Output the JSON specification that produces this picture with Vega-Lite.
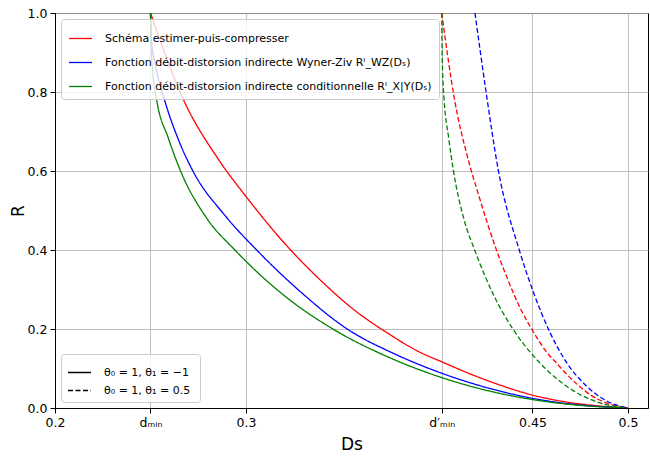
{
  "$schema": "https://vega.github.io/schema/vega-lite/v6.json",
  "width": 593,
  "height": 395,
  "autosize": {"type": "none"},
  "padding": {"left": 55, "top": 13, "right": 2, "bottom": 48},
  "config": {
    "font": "DejaVu Sans",
    "view": {"stroke": "black", "strokeWidth": 1},
    "axis": {
      "gridColor": "#b0b0b0", "gridWidth": 0.8, "domainColor": "black", "domainWidth": 1,
      "tickColor": "black", "tickSize": 5, "labelColor": "black", "labelFontSize": 12.5,
      "titleFontSize": 17, "titleFontWeight": "normal", "titleColor": "black", "labelPadding": 3,
      "labelFlush": false
    }
  },
  "data": {"values": [
    {"s": "EPC", "t": "a", "Ds": 0.25, "R": 1.0},
    {"s": "EPC", "t": "a", "Ds": 0.2672, "R": 0.781},
    {"s": "EPC", "t": "a", "Ds": 0.2855, "R": 0.630},
    {"s": "EPC", "t": "a", "Ds": 0.3004, "R": 0.533},
    {"s": "EPC", "t": "a", "Ds": 0.323, "R": 0.402},
    {"s": "EPC", "t": "a", "Ds": 0.3387, "R": 0.325},
    {"s": "EPC", "t": "a", "Ds": 0.3562, "R": 0.250},
    {"s": "EPC", "t": "a", "Ds": 0.3737, "R": 0.191},
    {"s": "EPC", "t": "a", "Ds": 0.3911, "R": 0.141},
    {"s": "EPC", "t": "a", "Ds": 0.4025, "R": 0.117},
    {"s": "EPC", "t": "a", "Ds": 0.4155, "R": 0.090},
    {"s": "EPC", "t": "a", "Ds": 0.433, "R": 0.058},
    {"s": "EPC", "t": "a", "Ds": 0.4505, "R": 0.032},
    {"s": "EPC", "t": "a", "Ds": 0.468, "R": 0.015},
    {"s": "EPC", "t": "a", "Ds": 0.4853, "R": 0.005},
    {"s": "EPC", "t": "a", "Ds": 0.5, "R": 0.0},

    {"s": "WZ", "t": "a", "Ds": 0.25, "R": 1.0},
    {"s": "WZ", "t": "a", "Ds": 0.2505, "R": 0.93},
    {"s": "WZ", "t": "a", "Ds": 0.2525, "R": 0.87},
    {"s": "WZ", "t": "a", "Ds": 0.2576, "R": 0.776},
    {"s": "WZ", "t": "a", "Ds": 0.2649, "R": 0.676},
    {"s": "WZ", "t": "a", "Ds": 0.2722, "R": 0.600},
    {"s": "WZ", "t": "a", "Ds": 0.2889, "R": 0.488},
    {"s": "WZ", "t": "a", "Ds": 0.3056, "R": 0.400},
    {"s": "WZ", "t": "a", "Ds": 0.3293, "R": 0.291},
    {"s": "WZ", "t": "a", "Ds": 0.353, "R": 0.200},
    {"s": "WZ", "t": "a", "Ds": 0.3778, "R": 0.137},
    {"s": "WZ", "t": "a", "Ds": 0.4025, "R": 0.088},
    {"s": "WZ", "t": "a", "Ds": 0.4265, "R": 0.051},
    {"s": "WZ", "t": "a", "Ds": 0.4505, "R": 0.024},
    {"s": "WZ", "t": "a", "Ds": 0.4753, "R": 0.0075},
    {"s": "WZ", "t": "a", "Ds": 0.5, "R": 0.0},

    {"s": "CD", "t": "a", "Ds": 0.25, "R": 1.0},
    {"s": "CD", "t": "a", "Ds": 0.2503, "R": 0.92},
    {"s": "CD", "t": "a", "Ds": 0.2512, "R": 0.85},
    {"s": "CD", "t": "a", "Ds": 0.2532, "R": 0.781},
    {"s": "CD", "t": "a", "Ds": 0.2593, "R": 0.684},
    {"s": "CD", "t": "a", "Ds": 0.2654, "R": 0.604},
    {"s": "CD", "t": "a", "Ds": 0.2798, "R": 0.478},
    {"s": "CD", "t": "a", "Ds": 0.2942, "R": 0.400},
    {"s": "CD", "t": "a", "Ds": 0.3199, "R": 0.285},
    {"s": "CD", "t": "a", "Ds": 0.3455, "R": 0.200},
    {"s": "CD", "t": "a", "Ds": 0.374, "R": 0.130},
    {"s": "CD", "t": "a", "Ds": 0.4025, "R": 0.077},
    {"s": "CD", "t": "a", "Ds": 0.4265, "R": 0.044},
    {"s": "CD", "t": "a", "Ds": 0.4505, "R": 0.021},
    {"s": "CD", "t": "a", "Ds": 0.4753, "R": 0.0065},
    {"s": "CD", "t": "a", "Ds": 0.5, "R": 0.0},

    {"s": "EPC", "t": "b", "Ds": 0.4025, "R": 1.0},
    {"s": "EPC", "t": "b", "Ds": 0.4092, "R": 0.781},
    {"s": "EPC", "t": "b", "Ds": 0.4163, "R": 0.630},
    {"s": "EPC", "t": "b", "Ds": 0.4222, "R": 0.533},
    {"s": "EPC", "t": "b", "Ds": 0.431, "R": 0.402},
    {"s": "EPC", "t": "b", "Ds": 0.4371, "R": 0.325},
    {"s": "EPC", "t": "b", "Ds": 0.4439, "R": 0.250},
    {"s": "EPC", "t": "b", "Ds": 0.4507, "R": 0.191},
    {"s": "EPC", "t": "b", "Ds": 0.4575, "R": 0.141},
    {"s": "EPC", "t": "b", "Ds": 0.462, "R": 0.117},
    {"s": "EPC", "t": "b", "Ds": 0.467, "R": 0.090},
    {"s": "EPC", "t": "b", "Ds": 0.4739, "R": 0.058},
    {"s": "EPC", "t": "b", "Ds": 0.4807, "R": 0.032},
    {"s": "EPC", "t": "b", "Ds": 0.4875, "R": 0.015},
    {"s": "EPC", "t": "b", "Ds": 0.4943, "R": 0.005},
    {"s": "EPC", "t": "b", "Ds": 0.5, "R": 0.0},

    {"s": "WZ", "t": "b", "Ds": 0.4199, "R": 1.0},
    {"s": "WZ", "t": "b", "Ds": 0.4255, "R": 0.807},
    {"s": "WZ", "t": "b", "Ds": 0.4322, "R": 0.600},
    {"s": "WZ", "t": "b", "Ds": 0.4431, "R": 0.400},
    {"s": "WZ", "t": "b", "Ds": 0.4505, "R": 0.293},
    {"s": "WZ", "t": "b", "Ds": 0.4592, "R": 0.191},
    {"s": "WZ", "t": "b", "Ds": 0.4679, "R": 0.115},
    {"s": "WZ", "t": "b", "Ds": 0.4784, "R": 0.055},
    {"s": "WZ", "t": "b", "Ds": 0.4888, "R": 0.018},
    {"s": "WZ", "t": "b", "Ds": 0.5, "R": 0.0},

    {"s": "CD", "t": "b", "Ds": 0.4025, "R": 1.0},
    {"s": "CD", "t": "b", "Ds": 0.40262, "R": 0.92},
    {"s": "CD", "t": "b", "Ds": 0.40297, "R": 0.85},
    {"s": "CD", "t": "b", "Ds": 0.40375, "R": 0.781},
    {"s": "CD", "t": "b", "Ds": 0.40613, "R": 0.684},
    {"s": "CD", "t": "b", "Ds": 0.40851, "R": 0.604},
    {"s": "CD", "t": "b", "Ds": 0.41412, "R": 0.478},
    {"s": "CD", "t": "b", "Ds": 0.41974, "R": 0.400},
    {"s": "CD", "t": "b", "Ds": 0.42976, "R": 0.285},
    {"s": "CD", "t": "b", "Ds": 0.43975, "R": 0.200},
    {"s": "CD", "t": "b", "Ds": 0.45086, "R": 0.130},
    {"s": "CD", "t": "b", "Ds": 0.46198, "R": 0.077},
    {"s": "CD", "t": "b", "Ds": 0.47133, "R": 0.044},
    {"s": "CD", "t": "b", "Ds": 0.4807, "R": 0.021},
    {"s": "CD", "t": "b", "Ds": 0.49037, "R": 0.0065},
    {"s": "CD", "t": "b", "Ds": 0.5, "R": 0.0}
  ]},
  "mark": {"type": "line", "strokeWidth": 1.3, "interpolate": "monotone", "clip": true},
  "encoding": {
    "x": {
      "field": "Ds", "type": "quantitative",
      "scale": {"domain": [0.2, 0.5105], "nice": false, "zero": false},
      "axis": {
        "values": [0.2, 0.25, 0.3, 0.4025, 0.45, 0.5],
        "labelExpr": "datum.value == 0.25 ? 'dₘᵢₙ' : (datum.value == 0.4025 ? 'd′ₘᵢₙ' : '' + datum.value)",
        "title": "Ds", "titlePadding": 8
      }
    },
    "y": {
      "field": "R", "type": "quantitative",
      "scale": {"domain": [0, 1], "nice": false},
      "axis": {"values": [0, 0.2, 0.4, 0.6, 0.8, 1.0], "format": ".1f", "title": "R", "titlePadding": 0}
    },
    "color": {
      "field": "s", "type": "nominal",
      "scale": {"domain": ["EPC", "WZ", "CD"], "range": ["#ff0000", "#0000ff", "#008000"]},
      "legend": {
        "title": null, "orient": "top-left", "offset": 6, "zindex": 1,
        "fillColor": "rgba(255,255,255,0.8)", "strokeColor": "#cccccc", "cornerRadius": 3, "padding": 7,
        "symbolType": "stroke", "symbolSize": 529, "symbolStrokeWidth": 1.3,
        "labelFontSize": 11, "labelOffset": 12, "rowPadding": 6, "labelLimit": 1000, "labelColor": "black",
        "labelExpr": "datum.value == 'EPC' ? 'Schéma estimer-puis-compresser' : (datum.value == 'WZ' ? 'Fonction débit-distorsion indirecte Wyner-Ziv Rᴵ_WZ(Dₛ)' : 'Fonction débit-distorsion indirecte conditionnelle Rᴵ_X|Y(Dₛ)')"
      }
    },
    "strokeDash": {
      "field": "t", "type": "nominal",
      "scale": {"domain": ["a", "b"], "range": [[1, 0], [5, 2.5]]},
      "legend": {
        "title": null, "orient": "bottom-left", "offset": 6, "zindex": 1,
        "fillColor": "rgba(255,255,255,0.8)", "strokeColor": "#cccccc", "cornerRadius": 3, "padding": 6,
        "symbolType": "stroke", "symbolSize": 529, "symbolStrokeWidth": 1.3, "symbolStrokeColor": "black",
        "labelFontSize": 11, "labelOffset": 12, "rowPadding": -2, "labelLimit": 1000, "labelColor": "black",
        "labelExpr": "datum.value == 'a' ? 'θ₀ = 1,  θ₁ = −1' : 'θ₀ = 1,  θ₁ = 0.5'"
      }
    }
  }
}
